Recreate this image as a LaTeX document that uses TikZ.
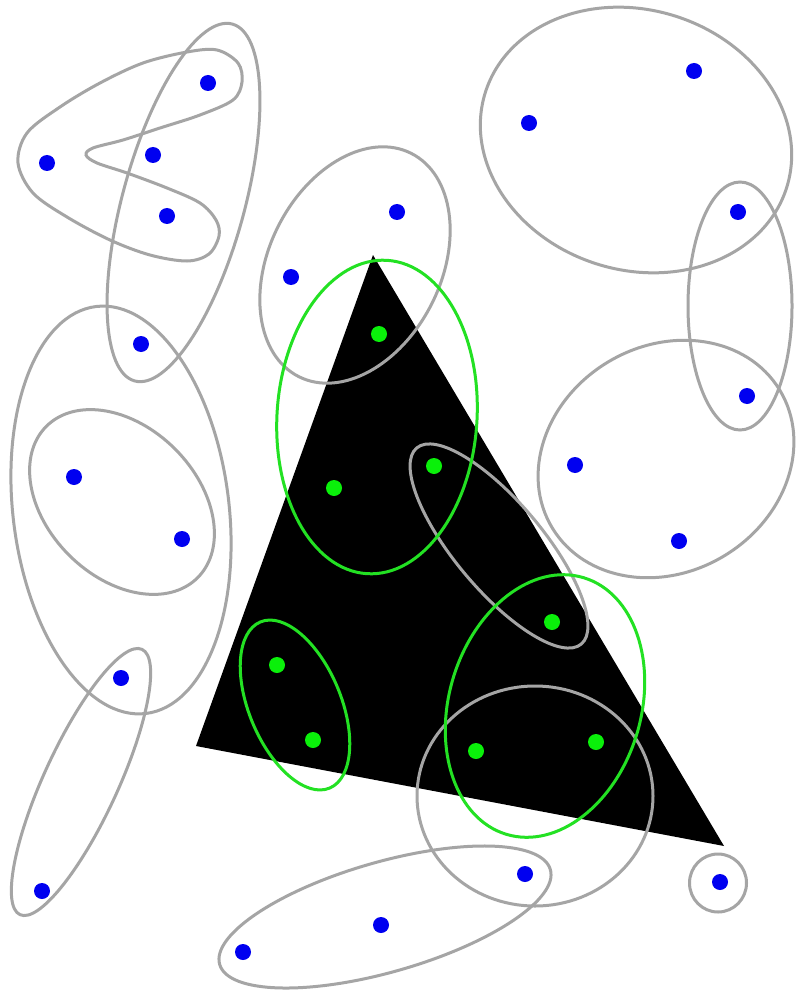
\documentclass[tikz,border=0pt]{standalone}
\definecolor{edgegray}{RGB}{165,165,165}
\definecolor{edgegreen}{RGB}{35,225,35}
\definecolor{dotgreen}{RGB}{10,240,10}
\definecolor{dotblue}{RGB}{0,0,240}
\begin{document}
\begin{tikzpicture}[x=1pt,y=-1pt,
  hedge/.style={draw=edgegray, line width=3pt},
  gedge/.style={draw=edgegreen, line width=3pt},
  bdot/.style={circle, fill=dotblue, inner sep=0pt, minimum size=16pt},
  gdot/.style={circle, fill=dotgreen, inner sep=0pt, minimum size=16pt}]
\fill[white] (0,0) rectangle (795,992);
\useasboundingbox (0,0) rectangle (795,992);
% black triangle
\fill[black] (373,255) -- (196,746) -- (724,846) -- cycle;
% gray hyperedges
\draw[hedge, rotate around={74.7:(183.5,202.5)}] (183.5,202.5) ellipse [x radius=185, y radius=61];
\draw[hedge] plot[smooth cycle, tension=0.55] coordinates {
  (187,52) (217,50) (238,63) (242,82) (233,100) (200,115) (160,128) (123,140)
  (93,148) (86,155) (97,163) (127,173) (167,188) (200,203) (216,220) (219,236)
  (209,254) (187,261) (150,255) (110,240) (67,217) (33,193) (18,163) (27,133)
  (60,107) (100,83) (143,63)};
\draw[hedge, rotate around={97:(121,510)}] (121,510) ellipse [x radius=205, y radius=108];
\draw[hedge, rotate around={-45:(122,502)}] (122,502) ellipse [x radius=107, y radius=75];
\draw[hedge, rotate around={65.3:(81,782)}] (81,782) ellipse [x radius=146, y radius=37];
\draw[hedge, rotate around={63.3:(355,265)}] (355,265) ellipse [x radius=125, y radius=86];
\draw[hedge, rotate around={-50:(499,546)}] (499,546) ellipse [x radius=128, y radius=44];
\draw[hedge] (535,796) ellipse [x radius=118, y radius=110];
\draw[hedge, rotate around={-17.6:(636,140)}] (636,140) ellipse [x radius=158, y radius=130];
\draw[hedge] (740,306) ellipse [x radius=52, y radius=124];
\draw[hedge, rotate around={31.3:(666,459)}] (666,459) ellipse [x radius=133, y radius=113];
\draw[hedge, rotate around={16:(385,917)}] (385,917) ellipse [x radius=172, y radius=55];
\draw[hedge] (718,883) ellipse [x radius=28.5, y radius=29];
% green hyperedges
\draw[gedge, rotate around={86.3:(377,417)}] (377,417) ellipse [x radius=157, y radius=100];
\draw[gedge, rotate around={73.3:(545,706)}] (545,706) ellipse [x radius=134, y radius=96];
\draw[gedge, rotate around={112.6:(295,705)}] (295,705) ellipse [x radius=90, y radius=46];
% blue vertices
\node[bdot] (b1) at (208,83) {};
\node[bdot] (b2) at (47,163) {};
\node[bdot] (b3) at (153,155) {};
\node[bdot] (b4) at (167,216) {};
\node[bdot] (b5) at (141,344) {};
\node[bdot] (b6) at (74,477) {};
\node[bdot] (b7) at (182,539) {};
\node[bdot] (b8) at (121,678) {};
\node[bdot] (b9) at (42,891) {};
\node[bdot] (b10) at (397,212) {};
\node[bdot] (b11) at (291,277) {};
\node[bdot] (b12) at (694,71) {};
\node[bdot] (b13) at (529,123) {};
\node[bdot] (b14) at (738,212) {};
\node[bdot] (b15) at (747,396) {};
\node[bdot] (b16) at (575,465) {};
\node[bdot] (b17) at (679,541) {};
\node[bdot] (b18) at (525,874) {};
\node[bdot] (b19) at (381,925) {};
\node[bdot] (b20) at (243,952) {};
\node[bdot] (b21) at (720,882) {};
% green vertices
\node[gdot] (g1) at (379,334) {};
\node[gdot] (g2) at (334,488) {};
\node[gdot] (g3) at (434,466) {};
\node[gdot] (g4) at (552,622) {};
\node[gdot] (g5) at (277,665) {};
\node[gdot] (g6) at (313,740) {};
\node[gdot] (g7) at (476,751) {};
\node[gdot] (g8) at (596,742) {};
\end{tikzpicture}
\end{document}
